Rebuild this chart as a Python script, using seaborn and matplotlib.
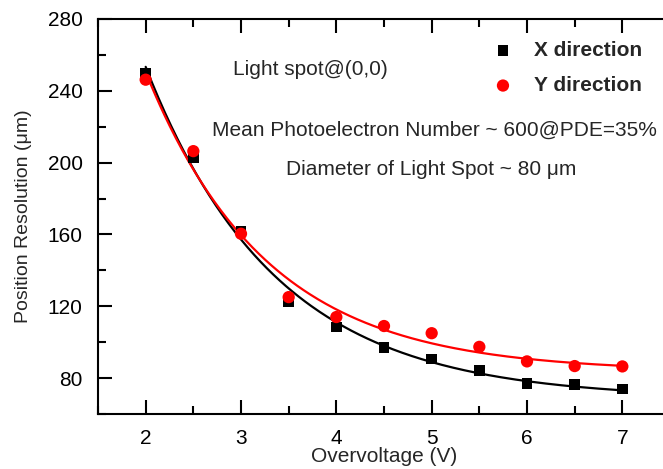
import numpy as np
import pandas as pd
import matplotlib
matplotlib.use("Agg")
import matplotlib.pyplot as plt
from matplotlib.ticker import MultipleLocator
import seaborn as sns

# Measured position resolution vs. SiPM overvoltage
overvoltage = [2.0, 2.5, 3.0, 3.5, 4.0, 4.5, 5.0, 5.5, 6.0, 6.5, 7.0]
res_x = [249.9, 202.6, 161.7, 122.7, 108.4, 97.0, 90.6, 84.2, 77.0, 76.4, 73.9]
res_y = [246.2, 206.4, 160.4, 125.1, 114.0, 109.0, 105.0, 97.4, 89.3, 86.7, 86.5]

sns.set_theme(style="white")
plt.rcParams["font.family"] = ["Liberation Sans", "DejaVu Sans"]


def exp_decay_fit(x, y):
    """Fit y = A*exp(-x/t) + y0 by scanning t and solving A, y0 linearly."""
    x = np.asarray(x, float)
    y = np.asarray(y, float)
    best = None
    for t in np.linspace(0.2, 5.0, 2000):
        M = np.column_stack([np.exp(-x / t), np.ones_like(x)])
        coef, *_ = np.linalg.lstsq(M, y, rcond=None)
        err = np.sum((M @ coef - y) ** 2)
        if best is None or err < best[0]:
            best = (err, t, coef)
    _, t, (a, y0) = best
    return lambda xx: a * np.exp(-xx / t) + y0


xs = np.linspace(min(overvoltage), max(overvoltage), 300)
fit_x = exp_decay_fit(overvoltage, res_x)
fit_y = exp_decay_fit(overvoltage, res_y)

fig = plt.figure(figsize=(6.63, 4.69), dpi=100)
ax = fig.add_axes([98 / 663, 55 / 469, 572 / 663, 395 / 469])

sns.lineplot(x=xs, y=fit_x(xs), color="black", lw=1.6, ax=ax)
sns.lineplot(x=xs, y=fit_y(xs), color="#ff0000", lw=1.6, ax=ax)
sns.scatterplot(x=overvoltage, y=res_x, marker="s", s=58, color="black",
                edgecolor="none", label="X direction", ax=ax, zorder=3)
sns.scatterplot(x=overvoltage, y=res_y, marker="o", s=78, color="#ff0000",
                edgecolor="none", label="Y direction", ax=ax, zorder=3)

ax.set_xlim(1.5, 7.5)
ax.set_ylim(60, 280)
ax.xaxis.set_major_locator(MultipleLocator(1))
ax.xaxis.set_minor_locator(MultipleLocator(0.5))
ax.yaxis.set_major_locator(MultipleLocator(40))
ax.yaxis.set_minor_locator(MultipleLocator(20))

for side in ["left", "bottom", "top"]:
    ax.spines[side].set_visible(True)
    ax.spines[side].set_color("black")
    ax.spines[side].set_linewidth(1.5)
ax.spines["right"].set_visible(False)

ax.tick_params(axis="both", which="major", direction="in", length=10,
               width=1.5, color="black", labelsize=15, pad=11,
               labelcolor="black")
ax.tick_params(axis="both", which="minor", direction="in", length=5.5,
               width=1.5, color="black")
ax.tick_params(axis="x", which="major", pad=11)
ax.tick_params(axis="x", which="both", top=True, length=2, width=0.8)
ax.tick_params(axis="x", which="major", bottom=True, length=10, width=1.5)
ax.tick_params(axis="x", which="minor", bottom=True, length=5.5, width=1.5)
ax.tick_params(axis="y", which="major", left=True)
ax.tick_params(axis="y", which="minor", left=True)

ax.set_xlabel("Overvoltage (V)", fontsize=15, labelpad=-1)
ax.set_ylabel("Position Resolution (μm)", fontsize=14, labelpad=11)

ax.text(0.371, 0.873, "Light spot@(0,0)", transform=ax.transAxes,
        ha="center", va="center", fontsize=15)
ax.text(0.589, 0.719, "Mean Photoelectron Number ~ 600@PDE=35%",
        transform=ax.transAxes, ha="center", va="center", fontsize=15)
ax.text(0.582, 0.618, "Diameter of Light Spot ~ 80 μm",
        transform=ax.transAxes, ha="center", va="center", fontsize=15)

ax.legend(loc="upper left", bbox_to_anchor=(0.657, 0.966), frameon=False,
          prop={"weight": "bold", "size": 15}, handletextpad=0.5,
          labelspacing=0.78, borderaxespad=0)

fig.savefig("out.png", dpi=100)
